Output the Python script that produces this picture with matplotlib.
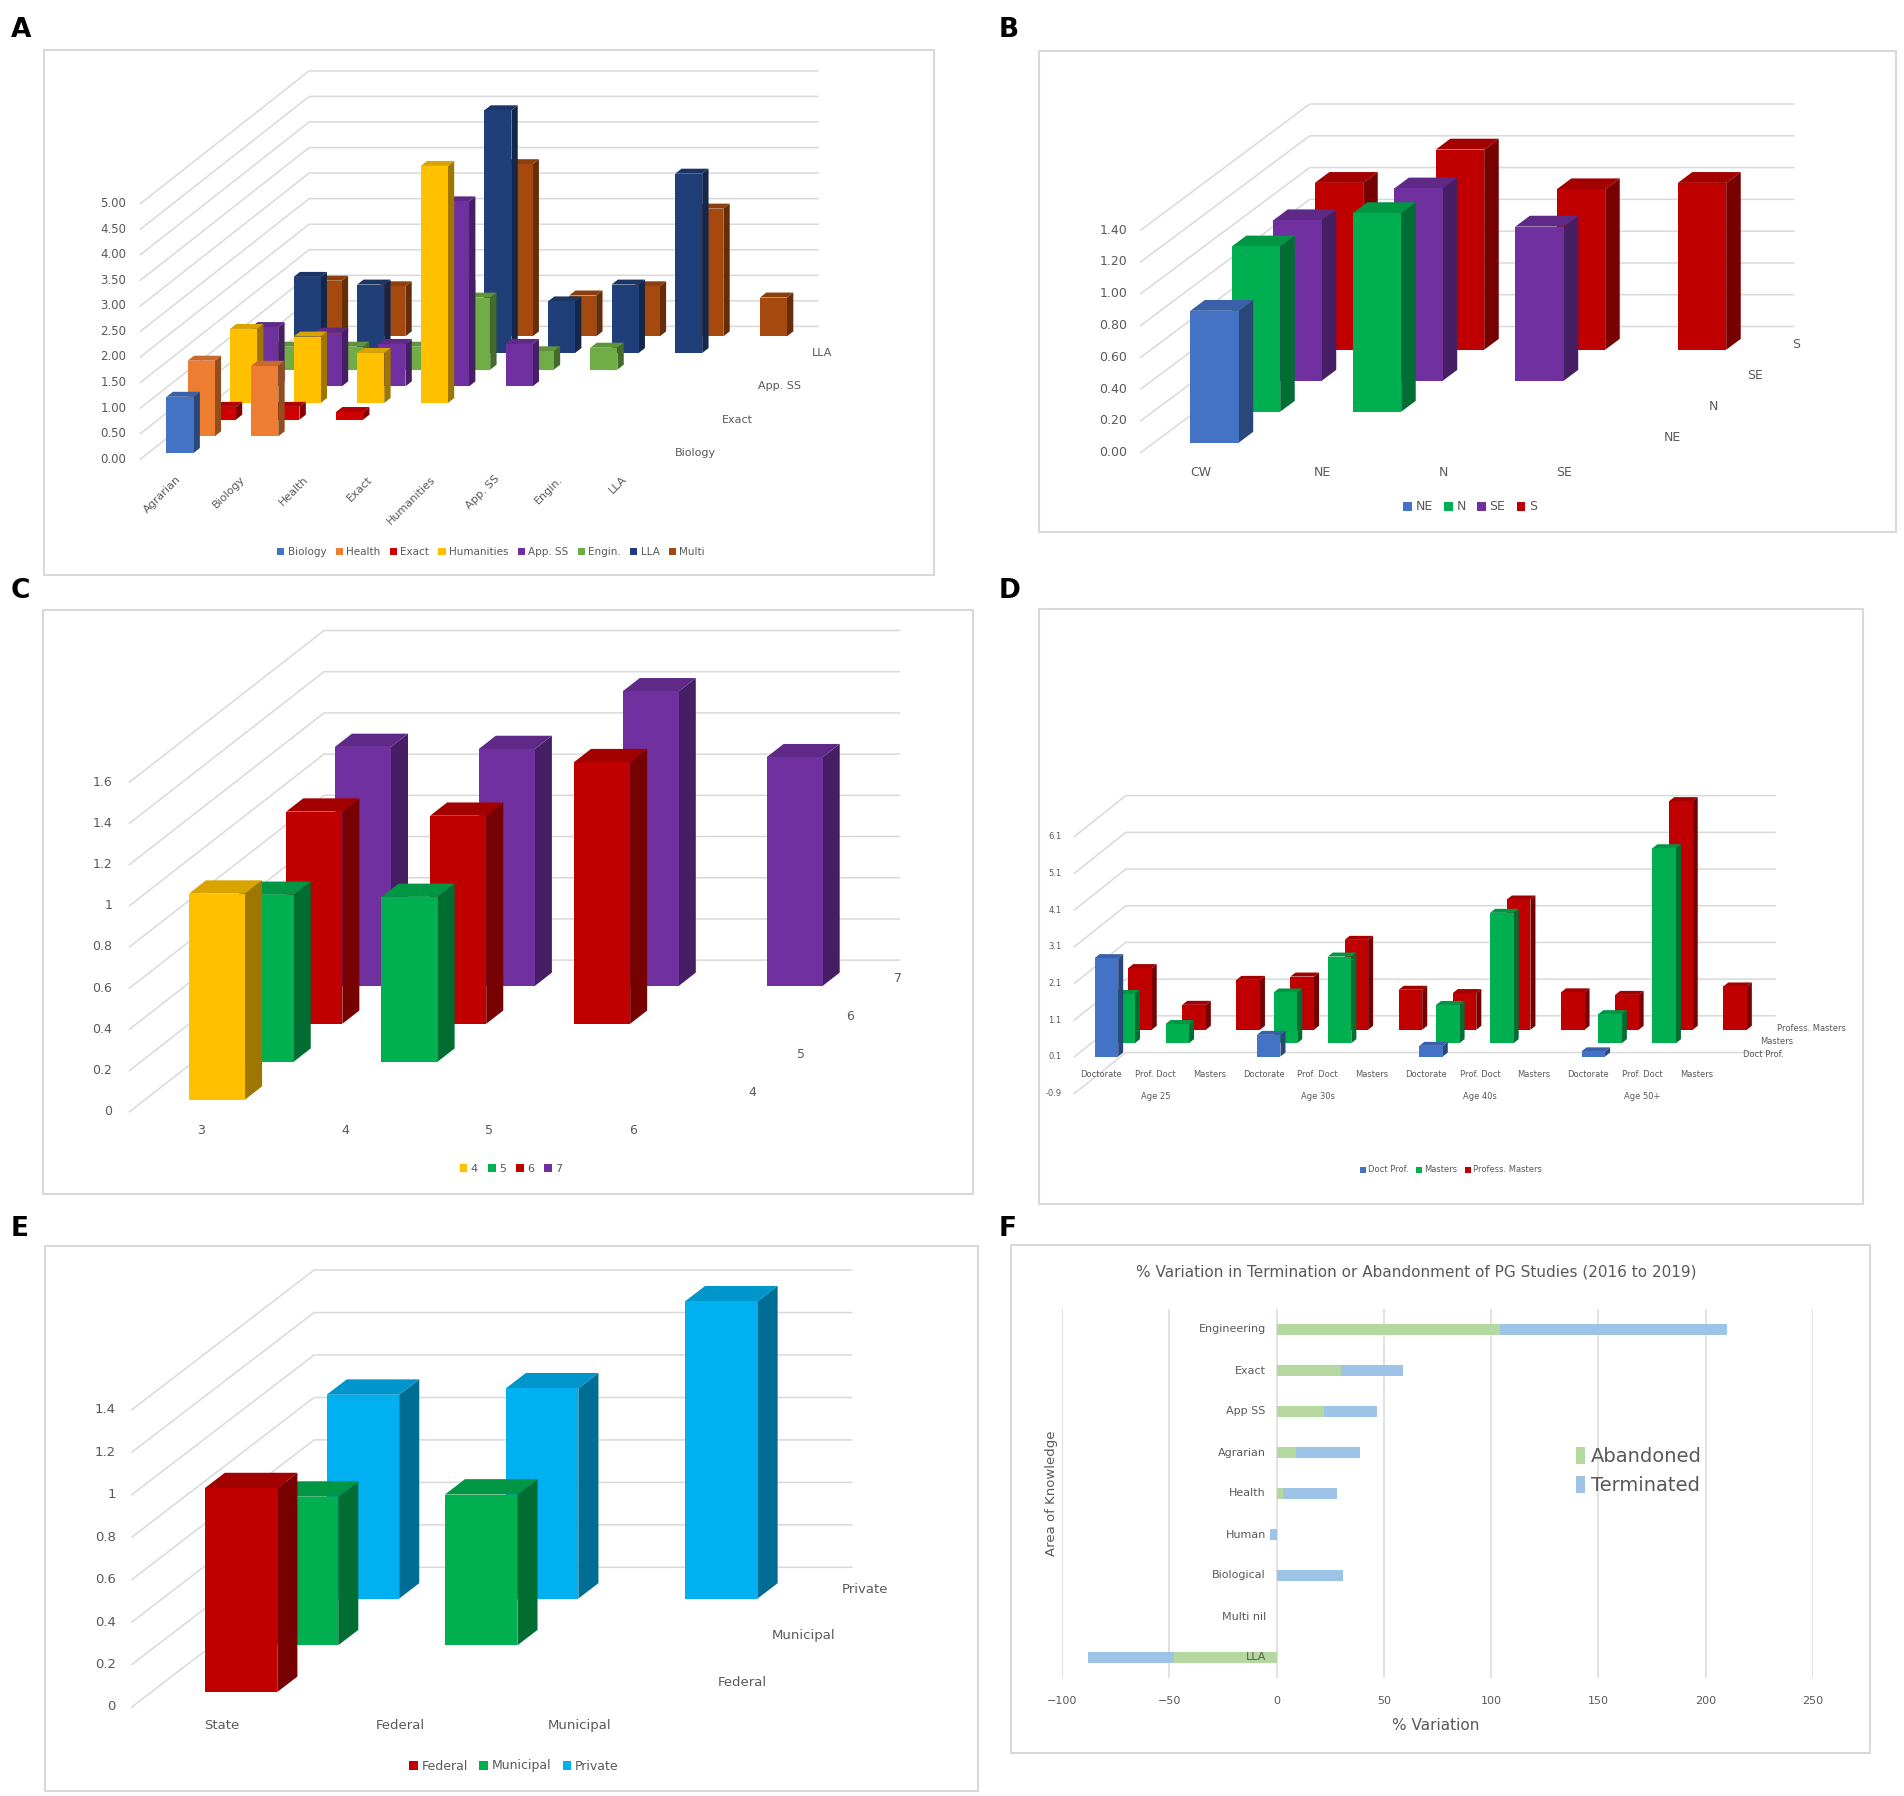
"""
Six panel figure: oblique 3D column charts of ratios (A-E) and a stacked bar of % variation (F).
"""
import numpy as np
import matplotlib
matplotlib.use('Agg')
import matplotlib.pyplot as plt
from matplotlib.patches import Polygon, Rectangle, Patch
from matplotlib.colors import to_rgb

# ---------------- data ----------------
# A - area of knowledge vs area of knowledge
a_areas = ['Agrarian', 'Biology', 'Health', 'Exact', 'Humanities', 'App. SS', 'Engin.', 'LLA']
a_series = ['Biology', 'Health', 'Exact', 'Humanities', 'App. SS', 'Engin.', 'LLA', 'Multi']
a_colors = ['#4472C4', '#ED7D31', '#D00000', '#FFC000', '#7030A0', '#70AD47', '#203F78', '#A5490E']
a_biology = [1.10]
a_health = [1.48, 1.38]
a_exact = [0.25, 0.25, 0.15]
a_humanities = [1.45, 1.30, 0.98, 4.64]
a_appss = [1.16, 1.05, 0.83, 3.62, 0.83]
a_engin = [0.45, 0.45, 0.45, 1.41, 0.36, 0.43]
a_lla = [1.49, 1.34, 1.20, 4.75, 1.01, 1.34, 3.51]
a_multi = [1.09, 0.98, 1.00, 3.37, 0.80, 0.98, 2.50, 0.76]
a_ticks = np.arange(0, 5.01, 0.5)

# B - regions
b_regions = ['CW', 'NE', 'N', 'SE']
b_series = ['NE', 'N', 'SE', 'S']
b_colors = ['#4472C4', '#00B050', '#7030A0', '#C00000']
b_ne = [0.83]
b_n = [1.04, 1.25]
b_se = [1.01, 1.21, 0.97]
b_s = [1.05, 1.26, 1.01, 1.05]
b_ticks = np.arange(0, 1.41, 0.2)

# C - grades
c_grades = ['3', '4', '5', '6']
c_series = ['4', '5', '6', '7']
c_colors = ['#FFC000', '#00B050', '#C00000', '#7030A0']
c_4 = [1.00]
c_5 = [0.81, 0.80]
c_6 = [1.03, 1.01, 1.27]
c_7 = [1.16, 1.15, 1.43, 1.11]
c_ticks = np.arange(0, 1.61, 0.2)

# D - degree by age
d_degrees = ['Doctorate', 'Prof. Doct', 'Masters'] * 4
d_ages = ['Age 25', 'Age 30s', 'Age 40s', 'Age 50+']
d_series = ['Doct Prof.', 'Masters', 'Profess. Masters']
d_colors = ['#4472C4', '#00B050', '#C00000']
d_doctprof = [2.68, None, None, 0.59, None, None, 0.29, None, None, 0.14, None, None]
d_masters = [1.34, 0.52, None, 1.38, 2.36, None, 1.04, 3.55, None, 0.79, 5.31, None]
d_profmasters = [1.68, 0.68, 1.36, 1.45, 2.45, 1.09, 1.00, 3.55, 1.02, 0.95, 6.23, 1.18]
d_ticks = np.arange(-0.9, 6.2, 1.0)

# E - administrative category
e_types = ['State', 'Federal', 'Municipal']
e_series = ['Federal', 'Municipal', 'Private']
e_colors = ['#C00000', '#00B050', '#00B0F0']
e_federal = [0.96]
e_municipal = [0.70, 0.71]
e_private = [0.96, 0.99, 1.40]
e_ticks = np.arange(0, 1.41, 0.2)

# F - % variation 2016 to 2019
f_areas = ['Engineering', 'Exact', 'App SS', 'Agrarian', 'Health', 'Human', 'Biological', 'Multi nil', 'LLA']
f_abandoned = [104, 30, 22, 9, 3, 0, 0, 0, -48]
f_terminated = [106, 29, 25, 30, 25, -3, 31, 0, -40]

# ---------------- drawing ----------------
W, H = 1904, 1796
GRID = '#D9D9D9'
TXT = '#595959'

fig = plt.figure(figsize=(W / 100, H / 100), dpi=100)


def panel_axes(box, x0, y0, sx, sy):
    # box in pixels (left, top, right, bottom); x0,y0 = pixel of column 0 / value 0
    left, top, right, bottom = box
    ax = fig.add_axes([left / W, 1 - bottom / H, (right - left) / W, (bottom - top) / H])
    ax.set_xlim((left - x0) / sx, (right - x0) / sx)
    ax.set_ylim((y0 - bottom) / sy, (y0 - top) / sy)
    ax.axis('off')
    ax.add_patch(Rectangle((0, 0), 1, 1, transform=ax.transAxes, fill=False,
                           ec=GRID, lw=1.5, clip_on=False))
    return ax


def shade(col, f):
    return tuple(np.clip(np.array(to_rgb(col)) * f, 0, 1))


def walls(ax, g, ticks, fmt, fs, gap):
    for v in ticks:
        xf = g['cl'] + g['df'] * g['dx']
        yf = v + g['df'] * g['dy']
        xb = g['cl'] + g['db'] * g['dx']
        yb = v + g['db'] * g['dy']
        xr = g['cr'] + g['db'] * g['dx']
        ax.plot([xf, xb, xr], [yf, yb, yb], color=GRID, lw=1.1, zorder=0.5)
        ax.text(xf - gap, yf, fmt(v), ha='right', va='center', fontsize=fs, color=TXT)


def bars(ax, g, rows, colors):
    ox, oy = g['bd'] * g['dx'], g['bd'] * g['dy']
    w = g['w']
    for d in range(len(rows) - 1, -1, -1):
        for c, v in enumerate(rows[d]):
            if v is None:
                continue
            x = c - w / 2 + d * g['dx']
            y = d * g['dy']
            front = [(x, y), (x + w, y), (x + w, y + v), (x, y + v)]
            side = [(x + w, y), (x + w + ox, y + oy), (x + w + ox, y + v + oy), (x + w, y + v)]
            top = [(x, y + v), (x + w, y + v), (x + w + ox, y + v + oy), (x + ox, y + v + oy)]
            for pts, f in ((side, 0.62), (top, 0.85), (front, 1.0)):
                ax.add_patch(Polygon(pts, closed=True, fc=shade(colors[d], f), ec='none', zorder=1))


def cat_labels(ax, g, names, y, fs, **kw):
    for c, name in enumerate(names):
        ax.text(c + g['df'] * g['dx'], y, name, fontsize=fs, color=TXT, **kw)


def depth_labels(ax, g, names, x, y, fs, rows=None, ha='center'):
    for d, name in enumerate(names):
        if rows is not None and d not in rows:
            continue
        ax.text(x + d * g['dx'], y + d * g['dy'], name, fontsize=fs, color=TXT,
                ha=ha, va='center')


def legend(ax, names, colors, center, fs):
    handles = [Patch(fc=c, ec='none') for c in colors]
    ax.legend(handles, names, loc='center', bbox_to_anchor=(center[0] / W, 1 - center[1] / H),
              bbox_transform=fig.transFigure, ncol=len(names), frameon=False, fontsize=fs,
              handlelength=0.7, handleheight=0.7, handletextpad=0.3, columnspacing=0.9,
              labelcolor=TXT)


def letter(x, y, s):
    fig.text(x / W, 1 - y / H, s, fontsize=19, fontweight='bold', va='baseline')


fmt2 = lambda v: '{:.2f}'.format(v)
fmtg = lambda v: '{:g}'.format(round(v, 1))
fmt1 = lambda v: '{:.1f}'.format(v)

# ---- A
gA = dict(dx=0.333, dy=0.326, w=0.425, bd=0.3, cl=-0.5, cr=7.5, df=-0.37, db=7.6)
axA = panel_axes((44, 50, 934, 575), 180, 453, 63.6, 51.1)
walls(axA, gA, a_ticks, fmt2, 8.5, 0.22)
bars(axA, gA, [a_biology, a_health, a_exact, a_humanities, a_appss, a_engin, a_lla, a_multi], a_colors)
for c, name in enumerate(a_areas):
    axA.text(c - 0.06, -0.41, name, fontsize=8, color=TXT, rotation=45,
             ha='right', va='top', rotation_mode='anchor')
depth_labels(axA, gA, a_series, 8.1, 0.0, 8, rows=[0, 2, 4, 6])
legend(axA, a_series, a_colors, (491, 552), 7.5)
letter(11, 37, 'A')

# ---- B
gB = dict(dx=0.343, dy=0.195, w=0.40, bd=0.35, cl=-0.5, cr=3.5, df=-0.32, db=3.75)
axB = panel_axes((1039, 51, 1896, 532), 1214.5, 442.7, 121, 158.9)
walls(axB, gB, b_ticks, fmt2, 9, 0.11)
bars(axB, gB, [b_ne, b_n, b_se, b_s], b_colors)
cat_labels(axB, gB, b_regions, -0.19, 9, ha='center', va='center')
depth_labels(axB, gB, b_series, 3.78, 0.03, 9)
legend(axB, b_series, b_colors, (1470, 507), 9)
letter(999, 37, 'B')

# ---- C
gC = dict(dx=0.338, dy=0.184, w=0.39, bd=0.35, cl=-0.5, cr=3.5, df=-0.32, db=3.68)
axC = panel_axes((43, 610, 973, 1194), 217, 1099.6, 143.9, 206)
walls(axC, gC, c_ticks, fmtg, 9, 0.12)
bars(axC, gC, [c_4, c_5, c_6, c_7], c_colors)
cat_labels(axC, gC, c_grades, -0.15, 9, ha='center', va='center')
depth_labels(axC, gC, c_series, 3.72, 0.036, 9)
legend(axC, c_series, c_colors, (511, 1169), 8)
letter(11, 598, 'C')

# ---- D
gD = dict(dx=0.31, dy=0.364, w=0.435, bd=0.3, cl=-0.5, cr=11.5, df=-0.3, db=2.77)
axD = panel_axes((1039, 609, 1863, 1204), 1106.4, 1056.5, 54.1, 36.7)
walls(axD, gD, d_ticks, fmt1, 6, 0.24)
bars(axD, gD, [d_doctprof, d_masters, d_profmasters], d_colors)
cat_labels(axD, gD, d_degrees, -0.5, 6, ha='center', va='center')
for k, age in enumerate(d_ages):
    axD.text(3 * k + 1 + gD['df'] * gD['dx'], -1.09, age, fontsize=6, color=TXT,
             ha='center', va='center')
depth_labels(axD, gD, d_series, 11.77, 0.045, 6, ha='left')
legend(axD, d_series, d_colors, (1451, 1170), 6)
letter(999, 598, 'D')

# ---- E
gE = dict(dx=0.34, dy=0.22, w=0.405, bd=0.33, cl=-0.5, cr=2.5, df=-0.32, db=2.67)
axE = panel_axes((45, 1246, 978, 1791), 241, 1692, 179.2, 212.3)
walls(axE, gE, e_ticks, fmtg, 9.5, 0.09)
bars(axE, gE, [e_federal, e_municipal, e_private], e_colors)
cat_labels(axE, gE, e_types, -0.16, 9.5, ha='center', va='center')
depth_labels(axE, gE, e_series, 2.8, 0.044, 9.5)
legend(axE, e_series, e_colors, (514, 1766), 9)
letter(11, 1236, 'E')

# ---- F
fig.add_artist(Rectangle((1011 / W, 1 - 1753 / H), (1870 - 1011) / W, (1753 - 1245) / H,
                         transform=fig.transFigure, fill=False, ec=GRID, lw=1.5))
axF = fig.add_axes([1062 / W, 1 - 1678 / H, (1813 - 1062) / W, (1678 - 1309) / H])
ab = np.array(f_abandoned, dtype=float)
te = np.array(f_terminated, dtype=float)
ypos = np.arange(len(f_areas))
ab_left = np.zeros(len(ab))
te_left = np.where(np.sign(te) == np.sign(ab), ab, 0.0)
axF.barh(ypos, ab, left=ab_left, height=0.25, color='#B5D8A1', label='Abandoned', zorder=2)
axF.barh(ypos, te, left=te_left, height=0.25, color='#9DC3E6', label='Terminated', zorder=2)
axF.set_xlim(-100, 250)
axF.set_ylim(len(f_areas) - 0.5, -0.5)
axF.set_xticks(np.arange(-100, 251, 50))
axF.set_yticks([])
axF.grid(axis='x', color=GRID, lw=1.1)
axF.set_axisbelow(True)
for s in axF.spines.values():
    s.set_visible(False)
axF.tick_params(axis='x', length=0, labelsize=8, labelcolor=TXT, pad=13)
for i, name in enumerate(f_areas):
    axF.text(-5, i, name, ha='right', va='center', fontsize=8, color=TXT, zorder=3)
axF.legend(loc='center left', bbox_to_anchor=(1558 / W, 1 - 1471 / H),
           bbox_transform=fig.transFigure, frameon=False, fontsize=14, handlelength=0.5,
           handleheight=1.0, handletextpad=0.3, labelspacing=0.5, labelcolor=TXT)
fig.text(1416 / W, 1 - 1272 / H,
         '% Variation in Termination or Abandonment of PG Studies (2016 to 2019)',
         ha='center', va='center', fontsize=11, color=TXT)
fig.text(1436 / W, 1 - 1725 / H, '% Variation', ha='center', va='center', fontsize=11, color=TXT)
fig.text(1051 / W, 1 - 1493 / H, 'Area of Knowledge', ha='center', va='center',
         rotation=90, fontsize=9.5, color=TXT)
letter(999, 1236, 'F')

fig.savefig('out.png', dpi=100)
